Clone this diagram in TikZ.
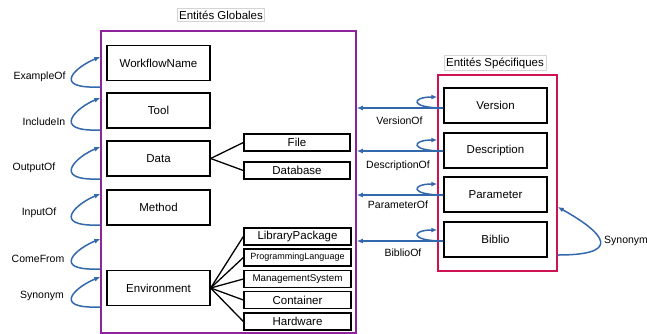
\documentclass[tikz,border=0pt]{standalone}
\usepackage{fontspec}
\setmainfont{Liberation Sans}
\usepackage{tikz}
\usetikzlibrary{arrows.meta,calc}
\definecolor{globcol}{RGB}{142,36,156}
\definecolor{speccol}{RGB}{206,18,82}
\definecolor{relcol}{RGB}{52,104,172}
\definecolor{titlecol}{RGB}{212,212,212}

\begin{document}
\begin{tikzpicture}[x=1pt,y=-1pt,>={Latex[length=6pt,width=5pt]},
    entity/.style={draw,line width=1.3pt,minimum width=103pt,minimum height=35pt,
      inner sep=0pt,font=\fontsize{11.5}{13}\selectfont},
    sub/.style={draw,line width=1.3pt,minimum width=106pt,minimum height=17pt,
      inner sep=0pt,font=\fontsize{11.5}{13}\selectfont},
    frame/.style={draw,line width=1.5pt,inner sep=0pt},
    title/.style={draw=titlecol,line width=0.8pt,inner sep=2pt,
      font=\fontsize{11.5}{13}\selectfont},
    rel/.style={relcol,line width=1.5pt,->},
    lbl/.style={font=\fontsize{10.5}{12}\selectfont}]
  \useasboundingbox (0,0) rectangle (647,333);

  % global entities
  \node[frame,draw=globcol,minimum width=255pt,minimum height=302pt] (glob) at (228.5,182) {};
  \node[title] (globt) at (221,15) {Entités Globales};
  \node[entity] (wf) at (158.5,63) {WorkflowName};
  \node[entity] (tool) at (158.5,110.5) {Tool};
  \node[entity] (data) at (158.5,158.5) {Data};
  \node[entity] (method) at (158.5,207.5) {Method};
  \node[entity] (env) at (158.5,288) {Environment};

  \node[sub] (file) at (297,142.5) {File};
  \node[sub] (db) at (297,170.5) {Database};
  \node[sub,minimum width=107pt] (libpkg) at (297.5,236.5) {LibraryPackage};
  \node[sub,minimum width=107pt,font=\fontsize{9}{11}\selectfont] (proglang) at (297.5,257.5) {ProgrammingLanguage};
  \node[sub,minimum width=107pt,font=\fontsize{9.8}{11}\selectfont] (mgmt) at (297.5,279) {ManagementSystem};
  \node[sub,minimum width=107pt] (cont) at (297.5,300) {Container};
  \node[sub,minimum width=107pt] (hw) at (297.5,321.5) {Hardware};

  \foreach \s in {file,db}
    \draw[line width=1.3pt] (data.east) -- (\s.west);
  \foreach \s in {libpkg,proglang,mgmt,cont,hw}
    \draw[line width=1.3pt] (env.east) -- (\s.west);

  % self relations on the global entities
  \foreach \a/\b/\ly/\lx/\name/\txt in {87/57/77/39.5/exof/ExampleOf,
      130/98/122/44/incl/IncludeIn, 179/147/168/34/outof/OutputOf,
      225/194/213/39/inof/InputOf, 269/239/259/38/come/ComeFrom,
      307/277/296/42/syng/Synonym}{
    \coordinate (\name-s) at (glob.west |- 0,\a);
    \coordinate (\name-e) at (glob.west |- 0,\b);
    \draw[rel] (\name-s) .. controls ($(\name-s)+(-51,2)$) and ($(\name-e)+(-23,9)$) .. (\name-e);
    \node[lbl] (\name) at (\lx,\ly) {\txt};
  }

  % specific entities
  \node[frame,draw=speccol,minimum width=119pt,minimum height=196pt] (spec) at (497.5,173) {};
  \node[title] (spect) at (495,63) {Entités Spécifiques};
  \node[entity] (version) at (495.5,105.5) {Version};
  \node[entity] (desc) at (495.5,150.5) {Description};
  \node[entity] (param) at (495.5,194.5) {Parameter};
  \node[entity] (biblio) at (495.5,239.5) {Biblio};

  \foreach \e/\dy/\name/\lx/\ly/\txt in {version/2.5/verof/399.5/121/VersionOf,
      desc/0.5/descof/398/166/DescriptionOf, param/0.5/parof/398/205/ParameterOf,
      biblio/1.5/bibof/403/253/BiblioOf}{
    \coordinate (\name-s) at ($(\e.west)+(0,\dy)$);
    \coordinate (\name-e) at ($(spec.west |- \e.west)+(0,\dy-11)$);
    \draw[rel] (\name-s) -- (\name-s -| glob.east);
    \draw[rel] (\name-s) .. controls ($(\name-s)+(-34,0)$) and ($(\name-e)+(-26,0)$) .. (\name-e);
    \node[lbl] (\name) at (\lx,\ly) {\txt};
  }

  \coordinate (syns-s) at (spec.east |- 0,255);
  \coordinate (syns-e) at (spec.east |- 0,207);
  \draw[rel] (syns-s) .. controls (635,255) and (590,225) .. (syns-e);
  \node[lbl,anchor=west,inner sep=0pt] (syns) at (604,241) {Synonym};
\end{tikzpicture}
\end{document}
